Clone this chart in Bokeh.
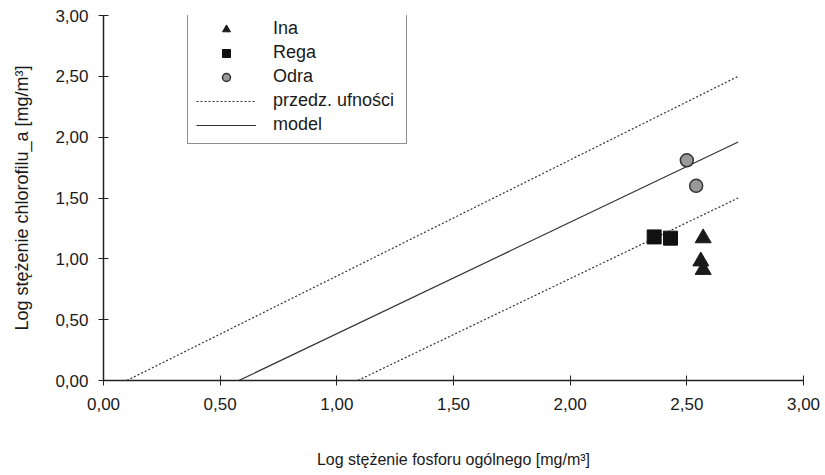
from bokeh.plotting import figure
from bokeh.models import Range1d, Legend, LegendItem, CustomJSTickFormatter, FixedTicker
from bokeh.embed import file_html
from bokeh.resources import INLINE

# Data
ina_x = [2.57, 2.56, 2.57]
ina_y = [1.17, 0.98, 0.91]
rega_x = [2.36, 2.43]
rega_y = [1.18, 1.17]
odra_x = [2.50, 2.54]
odra_y = [1.81, 1.60]

model_x = [0.58, 2.72]
model_y = [0.00, 1.96]
upper_x = [0.10, 2.72]
upper_y = [0.00, 2.50]
lower_x = [1.09, 2.72]
lower_y = [0.00, 1.50]

ticks = [0.0, 0.5, 1.0, 1.5, 2.0, 2.5, 3.0]

FONT = "Liberation Sans"

p = figure(width=825, height=475, output_backend="svg", toolbar_location=None,
           x_range=Range1d(0, 3), y_range=Range1d(0, 3),
           min_border_left=103, min_border_right=22, min_border_top=15, min_border_bottom=95)
p.outline_line_color = None
p.xgrid.visible = False
p.ygrid.visible = False
p.background_fill_color = "white"

fmt = CustomJSTickFormatter(code="return tick.toFixed(2).replace('.', ',')")
for ax in (p.xaxis, p.yaxis):
    ax.ticker = FixedTicker(ticks=ticks)
    ax.formatter = fmt
    ax.minor_tick_line_color = None
    ax.major_tick_in = 5
    ax.major_tick_out = 5
    ax.axis_line_color = "#222222"
    ax.axis_line_width = 1.5
    ax.major_tick_line_color = "#222222"
    ax.major_label_text_font = FONT
    ax.major_label_text_font_size = "17px"
    ax.major_label_text_color = "#1a1a1a"
    ax.axis_label_text_font = FONT
    ax.axis_label_text_font_style = "normal"
    ax.axis_label_text_color = "#1a1a1a"

p.xaxis.axis_label = "Log stężenie fosforu ogólnego [mg/m³]"
p.yaxis.axis_label = "Log stężenie chlorofilu_a [mg/m³]"
p.xaxis.axis_label_text_font_size = "16px"
p.yaxis.axis_label_text_font_size = "18px"
p.xaxis.major_label_standoff = 12
p.xaxis.axis_label_standoff = 38
p.yaxis.major_label_standoff = 10
p.yaxis.axis_label_standoff = 20

r_up = p.line(upper_x, upper_y, line_color="#333333", line_width=1.2, line_dash="2 2")
r_lo = p.line(lower_x, lower_y, line_color="#333333", line_width=1.2, line_dash="2 2")
r_model = p.line(model_x, model_y, line_color="#333333", line_width=1.2)

r_ina = p.scatter(ina_x, ina_y, marker="triangle", size=16, fill_color="#1a1a1a", line_color="#1a1a1a")
r_rega = p.scatter(rega_x, rega_y, marker="square", size=14, fill_color="#111111", line_color="#111111")
r_odra = p.scatter(odra_x, odra_y, marker="circle", size=13, fill_color="#999999", line_color="#333333", line_width=1.5)

legend = Legend(items=[
    LegendItem(label="Ina", renderers=[r_ina]),
    LegendItem(label="Rega", renderers=[r_rega]),
    LegendItem(label="Odra", renderers=[r_odra]),
    LegendItem(label="przedz. ufności", renderers=[r_up]),
    LegendItem(label="model", renderers=[r_model]),
], location=(84, 236))
legend.border_line_color = "#222222"
legend.border_line_width = 1.5
legend.background_fill_alpha = 1
legend.label_text_font = FONT
legend.label_text_font_size = "18px"
legend.label_text_color = "#1a1a1a"
legend.glyph_width = 60
legend.glyph_height = 20
legend.label_height = 20
legend.spacing = 3
legend.padding = 8
legend.margin = 0
legend.label_standoff = 17
legend.label_width = 125
p.add_layout(legend, "center")

open("out.html", "w").write(file_html(p, INLINE))
